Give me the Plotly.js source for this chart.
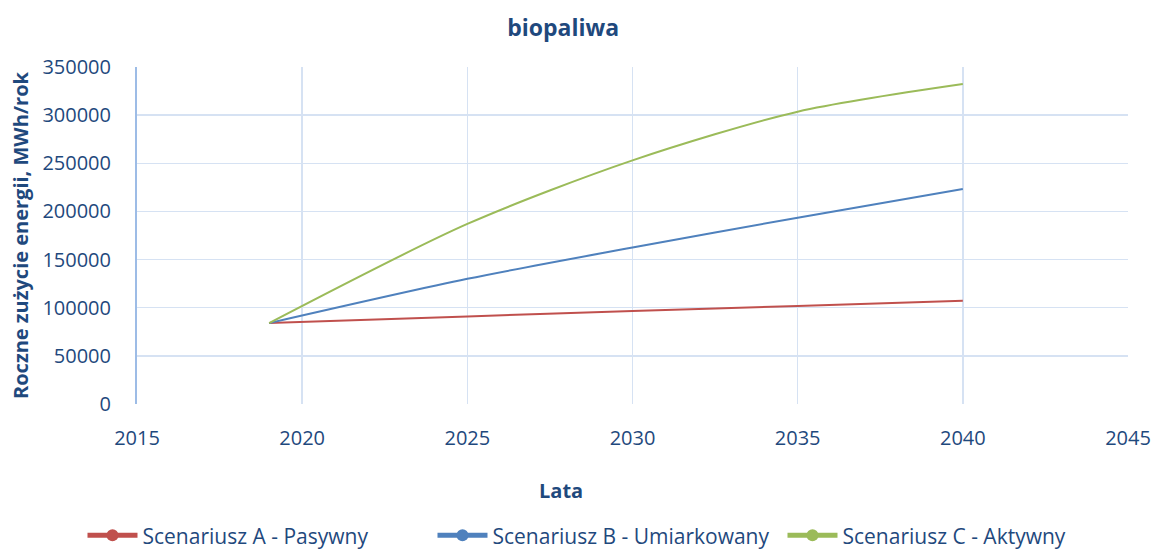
<!DOCTYPE html>
<html>
<head>
<meta charset="utf-8">
<script src="https://cdn.plot.ly/plotly-3.0.1.min.js"></script>
<style>html,body{margin:0;padding:0;background:#fff;}#chart{width:1154px;height:551px;}</style>
</head>
<body>
<div id="chart"></div>
<script>
var years = [2019, 2025, 2030, 2035, 2040];
var scenarioA = [84000, 91000, 96500, 101800, 107300];
var scenarioB = [84000, 130000, 162500, 193500, 223300];
var scenarioC = [84000, 187000, 253000, 303600, 332300];
var seriesNames = ['Scenariusz A - Pasywny', 'Scenariusz B - Umiarkowany', 'Scenariusz C - Aktywny'];
var seriesColors = ['#C0504D', '#4F81BD', '#9BBB59'];
var seriesValues = [scenarioA, scenarioB, scenarioC];

var textColor = '#1F497D';
var font = 'Open Sans, Noto Sans, sans-serif';

var traces = seriesValues.map(function (vals, i) {
  return {
    x: years, y: vals, name: seriesNames[i], type: 'scatter', mode: 'lines+markers',
    line: {color: seriesColors[i], width: 2, shape: 'spline', smoothing: 0.8},
    marker: {color: seriesColors[i], size: 0.1},
    hoverinfo: 'x+y'
  };
});

var layout = {
  width: 1154, height: 551,
  margin: {l: 137, r: 26, t: 67, b: 147, autoexpand: false},
  paper_bgcolor: '#fff', plot_bgcolor: '#fff',
  font: {family: font, color: textColor, size: 20},
  title: {text: '<b>biopaliwa</b>', xref: 'paper', x: 0.43, xanchor: 'center', yref: 'container', y: 0.95, yanchor: 'middle', font: {size: 23, color: textColor, family: font}},
  xaxis: {
    range: [2015, 2045], tick0: 2015, dtick: 5, tickmode: 'linear',
    showgrid: true, gridcolor: '#D6E2F3', gridwidth: 1.5,
    showline: false, zeroline: false, ticks: '', ticklen: 0,
    ticklabelstandoff: 20,
    tickfont: {size: 20, color: textColor}
  },
  yaxis: {
    range: [0, 350000], dtick: 50000, tickmode: 'linear',
    showgrid: true, gridcolor: '#D6E2F3', gridwidth: 1.5,
    showline: true, linecolor: '#9DBCE6', linewidth: 2, zeroline: false,
    ticks: '', tickformat: 'd',
    ticklabelstandoff: 20,
    tickfont: {size: 20, color: textColor},
    title: {text: '<b>Roczne zużycie energii, MWh/rok</b>', font: {size: 20, color: textColor}, standoff: 8}
  },
  annotations: [{
    text: '<b>Lata</b>', xref: 'paper', yref: 'paper', x: 0.428, y: -0.258,
    xanchor: 'center', yanchor: 'middle', showarrow: false,
    font: {size: 20, color: textColor, family: font}
  }],
  legend: {
    orientation: 'h', x: -0.055, xanchor: 'left', y: -0.33, yanchor: 'top',
    font: {size: 21, color: textColor}, itemsizing: 'constant', itemwidth: 50,
    entrywidth: 285, entrywidthmode: 'pixels',
    traceorder: 'normal'
  },
  showlegend: true
};

Plotly.newPlot('chart', traces, layout, {displayModeBar: false, staticPlot: true});
</script>
</body>
</html>
